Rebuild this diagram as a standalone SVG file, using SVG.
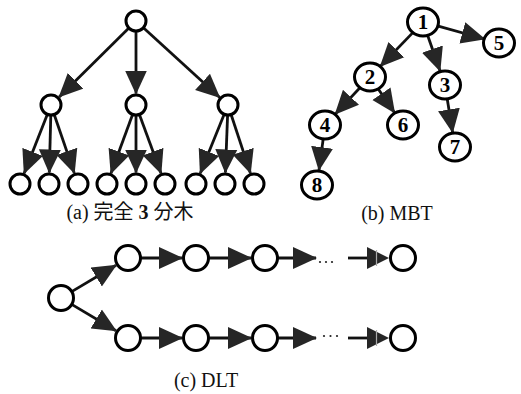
<svg xmlns="http://www.w3.org/2000/svg" width="521" height="394" viewBox="0 0 521 394">
<defs>
<marker id="ah" markerUnits="userSpaceOnUse" markerWidth="25" markerHeight="23" refX="23" refY="11" orient="auto" viewBox="0 0 25 22">
<path d="M0,0 L24,11 L0,22 Z" fill="#262626"/>
</marker>
</defs>
<style>
.n{fill:#fff;stroke:#000;stroke-width:3}
.e{stroke:#111;stroke-width:2.8;fill:none;marker-end:url(#ah)}
.p{stroke:#111;stroke-width:2.8;fill:none}
.dot{fill:#222}
</style>
<g id="edges">
<!-- (a) -->
<line class="e" x1="128.9" y1="28" x2="59.2" y2="96.9"/>
<line class="e" x1="136" y1="31" x2="136" y2="93.5"/>
<line class="e" x1="143.4" y1="27.7" x2="219.5" y2="97.3"/>
<line class="e" x1="47.4" y1="114.3" x2="24.2" y2="173.3"/>
<line class="e" x1="50.8" y1="115" x2="49.3" y2="172.5"/>
<line class="e" x1="54.2" y1="114.5" x2="74.3" y2="173.1"/>
<line class="e" x1="132.6" y1="114.4" x2="111" y2="173.2"/>
<line class="e" x1="136" y1="115" x2="136" y2="172.5"/>
<line class="e" x1="139.4" y1="114.4" x2="161" y2="173.2"/>
<line class="e" x1="224.2" y1="114.3" x2="200.3" y2="173.3"/>
<line class="e" x1="227.6" y1="115" x2="225.4" y2="172.5"/>
<line class="e" x1="231.1" y1="114.5" x2="250.4" y2="173.1"/>
<!-- (b) -->
<line class="e" x1="413.3" y1="32.1" x2="380.4" y2="66.2"/>
<line class="e" x1="427.6" y1="35.2" x2="440" y2="70.8"/>
<line class="e" x1="436.5" y1="25.7" x2="484.5" y2="39"/>
<line class="e" x1="360.4" y1="87.2" x2="335.3" y2="114.1"/>
<line class="e" x1="377.9" y1="88.5" x2="394.5" y2="112.6"/>
<line class="e" x1="447.2" y1="98.8" x2="452.6" y2="132.2"/>
<line class="e" x1="323.2" y1="138.9" x2="319" y2="170.1"/>
<!-- (c) -->
<line class="e" x1="71.7" y1="291.6" x2="116" y2="265.2"/>
<line class="e" x1="71.7" y1="304.4" x2="116" y2="330.8"/>
<line class="e" x1="140.5" y1="258" x2="182" y2="258"/>
<line class="e" x1="208.5" y1="258" x2="251" y2="258"/>
<line class="e" x1="277.5" y1="258" x2="316" y2="258"/>
<line class="p" x1="348" y1="258" x2="368" y2="258"/>
<path d="M367,247 L389,258 L367,269 Z" fill="#262626"/>
<line x1="376.5" y1="250" x2="376.5" y2="266" stroke="#aaa" stroke-width="1.2"/>
<line class="e" x1="140.5" y1="338" x2="182" y2="338"/>
<line class="e" x1="208.5" y1="338" x2="251" y2="338"/>
<line class="e" x1="277.5" y1="338" x2="316" y2="338"/>
<line class="p" x1="348" y1="338" x2="368" y2="338"/>
<path d="M367,327 L389,338 L367,349 Z" fill="#262626"/>
<line x1="376.5" y1="330" x2="376.5" y2="346" stroke="#aaa" stroke-width="1.2"/>
<circle class="dot" cx="320" cy="262" r="1.1"/>
<circle class="dot" cx="326" cy="262" r="1.1"/>
<circle class="dot" cx="332" cy="262" r="1.1"/>
<circle class="dot" cx="324" cy="336" r="1.1"/>
<circle class="dot" cx="330.5" cy="336" r="1.1"/>
<circle class="dot" cx="337" cy="336" r="1.1"/>
</g>
<!-- (a) nodes -->
<g id="a-root"><circle class="n" cx="136" cy="21" r="10"/></g>
<g id="a-l1"><circle class="n" cx="51" cy="105" r="10"/></g>
<g id="a-l2"><circle class="n" cx="136" cy="105" r="10"/></g>
<g id="a-l3"><circle class="n" cx="228" cy="105" r="10"/></g>
<g id="a-leaf1"><circle class="n" cx="20" cy="184" r="10"/></g>
<g id="a-leaf2"><circle class="n" cx="49" cy="184" r="10"/></g>
<g id="a-leaf3"><circle class="n" cx="78" cy="184" r="10"/></g>
<g id="a-leaf4"><circle class="n" cx="107" cy="184" r="10"/></g>
<g id="a-leaf5"><circle class="n" cx="136" cy="184" r="10"/></g>
<g id="a-leaf6"><circle class="n" cx="165" cy="184" r="10"/></g>
<g id="a-leaf7"><circle class="n" cx="196" cy="184" r="10"/></g>
<g id="a-leaf8"><circle class="n" cx="225" cy="184" r="10"/></g>
<g id="a-leaf9"><circle class="n" cx="254" cy="184" r="10"/></g>
<!-- (b) nodes -->
<g font-family="Liberation Serif, serif" font-weight="bold" font-size="21" text-anchor="middle">
<g id="b1"><ellipse class="n" cx="423" cy="22" rx="15.5" ry="14"/><text x="423" y="29">1</text></g>
<g id="b2"><ellipse class="n" cx="370" cy="77" rx="15.5" ry="14"/><text x="370" y="84">2</text></g>
<g id="b3"><ellipse class="n" cx="445" cy="85" rx="15.5" ry="14"/><text x="445" y="92">3</text></g>
<g id="b4"><ellipse class="n" cx="325" cy="125" rx="15.5" ry="14"/><text x="325" y="132">4</text></g>
<g id="b5"><ellipse class="n" cx="499" cy="43" rx="15.5" ry="14"/><text x="499" y="50">5</text></g>
<g id="b6"><ellipse class="n" cx="403" cy="125" rx="15.5" ry="14"/><text x="403" y="132">6</text></g>
<g id="b7"><ellipse class="n" cx="455" cy="147" rx="15.5" ry="14"/><text x="455" y="154">7</text></g>
<g id="b8"><ellipse class="n" cx="317" cy="185" rx="15.5" ry="14"/><text x="317" y="192">8</text></g>
</g>
<!-- (c) nodes -->
<g id="c-root"><circle class="n" cx="61" cy="298" r="12.5"/></g>
<g id="c-t1"><circle class="n" cx="128" cy="258" r="12.5"/></g>
<g id="c-t2"><circle class="n" cx="196" cy="258" r="12.5"/></g>
<g id="c-t3"><circle class="n" cx="265" cy="258" r="12.5"/></g>
<g id="c-t4"><circle class="n" cx="403" cy="258" r="12.5"/></g>
<g id="c-b1"><circle class="n" cx="128" cy="338" r="12.5"/></g>
<g id="c-b2"><circle class="n" cx="196" cy="338" r="12.5"/></g>
<g id="c-b3"><circle class="n" cx="265" cy="338" r="12.5"/></g>
<g id="c-b4"><circle class="n" cx="403" cy="338" r="12.5"/></g>
<g id="labels" font-family="Liberation Serif, Noto Sans CJK JP, serif" font-size="20" text-anchor="middle" fill="#111">
<text x="130" y="219">(a) 完全 <tspan font-weight="bold">3</tspan> 分木</text>
<text x="397" y="220">(b) MBT</text>
<text x="206" y="387">(c) DLT</text>
</g>
</svg>
